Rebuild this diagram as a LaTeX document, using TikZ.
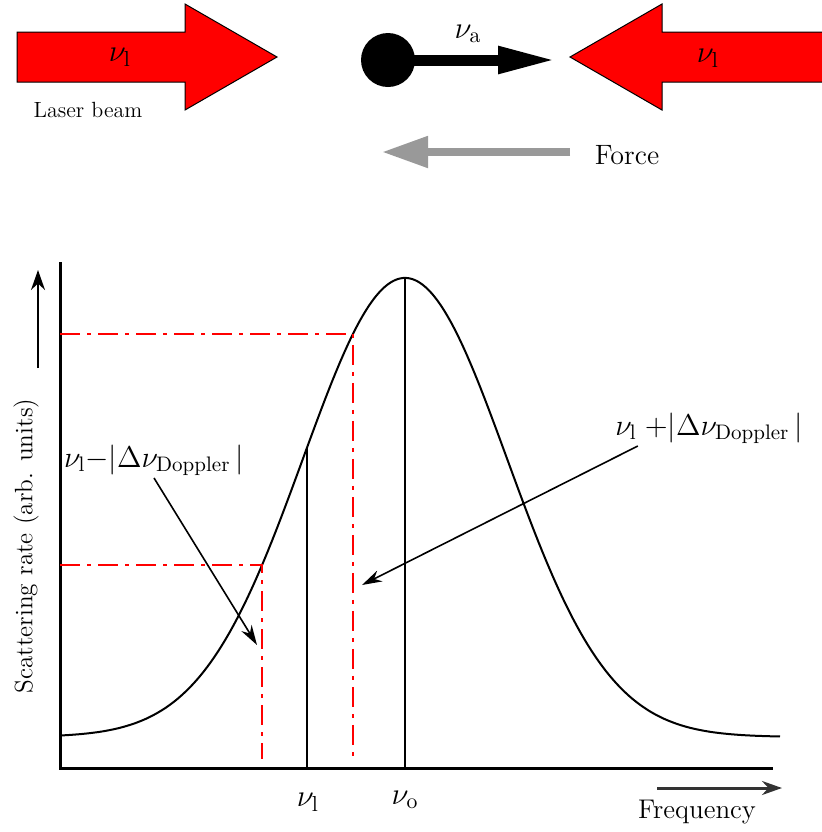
\RequirePackage{fix-cm}
\documentclass[tikz,border=0pt]{standalone}
\usepackage{fontspec}
\usetikzlibrary{positioning,arrows.meta}

\begin{document}
\begin{tikzpicture}[
x=0.5pt, y=-0.5pt,
>=Stealth,
declare function={lineshape(\x)=737-459*exp(-0.5*((\x-405)/102)*((\x-405)/102));},
every node/.style={font=\fontsize{13.5}{16}\selectfont, inner sep=1pt},
beam/.style={draw=black, line width=0.5pt},
reddash/.style={red, line width=1pt, dash pattern=on 10pt off 3.5pt on 2pt off 3.5pt},
axis/.style={line width=1.5pt},
marker/.style={line width=1pt},
pointer/.style={-{Stealth[length=10pt,width=6pt]}, line width=0.8pt},
axisarrow/.style={-{Stealth[length=10pt,width=7pt]}, line width=1pt},
doppler/.style={anchor=base, font=\fontsize{15}{18}\selectfont},
freqlabel/.style={font=\fontsize{15.5}{18}\selectfont}
]
\useasboundingbox (0,0) rectangle (822,832);

% laser beams
\fill[red] (17,32) -- (185,32) -- (185,4) -- (277,57) -- (185,110) -- (185,82) -- (17,82) -- cycle;
\draw[beam] (17,32) -- (185,32) -- (185,4) -- (277,57) -- (185,110) -- (185,82) -- (17,82) -- cycle;
\fill[red] (822,32) -- (662,32) -- (662,4) -- (570,57) -- (662,110) -- (662,82) -- (822,82) -- cycle;
\draw[beam] (822,32) -- (662,32) -- (662,4) -- (570,57) -- (662,110) -- (662,82) -- (822,82);
\node[freqlabel] (beamleft) at (120,57) {$\nu_{\mathrm{l}}$};
\node[freqlabel] (beamright) at (708,58) {$\nu_{\mathrm{l}}$};
\node[font=\fontsize{11}{13}\selectfont] (laser) at (88,110) {Laser beam};

% atom and force
\node[circle, fill=black, minimum size=27pt, inner sep=0pt] (atom) at (388,60) {};
\coordinate (vtip) at (557,60);
\draw[-{Triangle[length=29.5pt,width=12.5pt]}, line width=5.5pt] (atom.center) -- (vtip);
\node[freqlabel] (va) at (468,34) {$\nu_{\mathrm{a}}$};
\node[font=\fontsize{14}{16}\selectfont] (force) at (627,155) {Force};
\coordinate (fstart) at (570,152);
\coordinate (ftip) at (382,152);
\draw[-{Triangle[length=23pt,width=15pt]}, line width=4pt, black!40] (fstart) -- (ftip);

% axes
\coordinate (ytop) at (60,262);
\coordinate (origin) at (60,768);
\coordinate (xend) at (773,768);
\draw[axis] (ytop) -- (origin) -- (xend);

% resonance curve
\draw[line width=1pt] plot[domain=60:780, samples=150, smooth] (\x,{lineshape(\x)});
\draw[marker] (307,{lineshape(307)}) -- (307,768);
\draw[marker] (405,{lineshape(405)}) -- (405,768);
\draw[reddash] (60,{lineshape(353)}) -- (353,{lineshape(353)}) -- (353,759);
\draw[reddash] (60,{lineshape(262)}) -- (262,{lineshape(262)}) -- (262,759);

\node[freqlabel] (nul) at (308,802) {$\nu_{\mathrm{l}}$};
\node[freqlabel] (nuo) at (405,800) {$\nu_{\mathrm{o}}$};

% axis labels
\node[rotate=90, font=\fontsize{12.6}{14}\selectfont] (ylab) at (26,546) {Scattering rate (arb. units)};
\coordinate (ya) at (38,368);
\coordinate (yb) at (38,270);
\draw[axisarrow] (ya) -- (yb);
\node (freq) at (697,812) {Frequency};
\coordinate (fa) at (657,788);
\coordinate (fb) at (782,788);
\draw[axisarrow, black!80, line width=1.5pt] (fa) -- (fb);

% doppler shifted frequencies
\node[doppler] (minus) at (154,467) {$\nu_{\mathrm{l}}{-}|\Delta\nu_{\mathrm{Doppler}}\,|$};
\node[doppler] (plus) at (709,435) {$\nu_{\mathrm{l}}\;{+}|\Delta\nu_{\mathrm{Doppler}}\,|$};
\coordinate (lowtip) at (257,645);
\coordinate (hightip) at (362,585);
\draw[pointer] (minus.south) -- (lowtip);
\draw[pointer] ([xshift=12.5pt]plus.south west) -- (hightip);

\end{tikzpicture}
\end{document}
